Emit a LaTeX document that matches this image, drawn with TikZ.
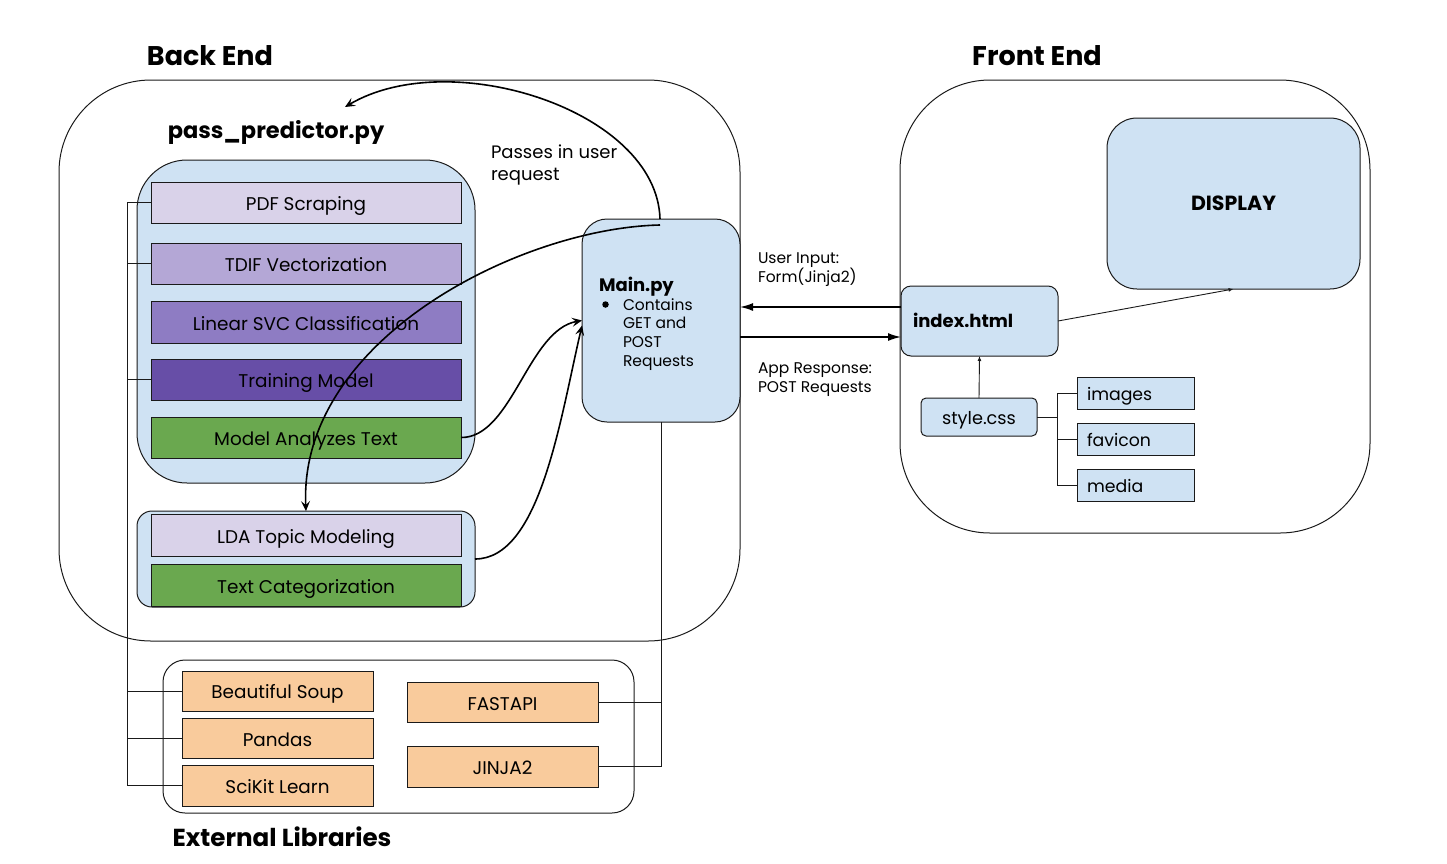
\documentclass[tikz,border=0pt]{standalone}
\usepackage{fontspec}
\setmainfont{Poppins}
\usetikzlibrary{arrows.meta}
\definecolor{lblue}{HTML}{CFE2F3}
\definecolor{pdfc}{HTML}{D9D2E9}
\definecolor{tdifc}{HTML}{B4A7D6}
\definecolor{svcc}{HTML}{8E7CC3}
\definecolor{trainc}{HTML}{674EA7}
\definecolor{greenc}{HTML}{6AA84F}
\definecolor{orangec}{HTML}{F9CB9C}
\definecolor{strokec}{HTML}{1A1A1A}
\begin{document}
\begin{tikzpicture}[x=1pt,y=-1pt,
  every node/.style={inner sep=0pt, outer sep=0pt},
  capc/.style={text height=#1, text depth=0pt},
  container/.style={draw=strokec, line width=1pt, rectangle},
  stepbox/.style={draw=strokec, line width=1pt, minimum width=310pt, font=\fontsize{18.4}{22}\selectfont, capc=16pt},
  libbox/.style={draw=strokec, line width=1pt, fill=orangec, minimum width=191pt, font=\fontsize{18.4}{22}\selectfont, capc=16pt},
  assetbox/.style={draw=strokec, line width=1pt, fill=lblue, minimum width=117pt, minimum height=32pt, text width=97pt, align=left, font=\fontsize{17.3}{20}\selectfont, capc=14pt},
  title/.style={anchor=base, font=\fontsize{27}{32}\selectfont\bfseries},
  subtitle/.style={anchor=base, font=\fontsize{22.5}{27}\selectfont\bfseries},
  lbl/.style={anchor=base west},
  conn/.style={draw=strokec, line width=1pt},
  curvearr/.style={draw=black, line width=1.6pt, -{Stealth[length=10pt,width=9pt,inset=4pt]}},
  flowarr/.style={draw=black, line width=1.6pt, -{Latex[length=13pt,width=8pt]}},
  thinarr/.style={draw=strokec, line width=0.9pt, -{Latex[length=5pt,width=4pt]}}
]
\useasboundingbox (0,0) rectangle (1447,863);

% containers
\node[container, rounded corners=92pt, minimum width=681pt, minimum height=561pt] (backend) at (399.5,360.5) {};
\node[container, rounded corners=90pt, minimum width=470pt, minimum height=453pt] (frontend) at (1135,306.5) {};
\node[container, rounded corners=22pt, minimum width=471pt, minimum height=153pt] (extbox) at (398.5,736.5) {};

% titles
\node[title] (betitle) at (210,65.5) {Back End};
\node[title] (fetitle) at (1037,65.5) {Front End};
\node[subtitle] (pptitle) at (276,138) {pass\_predictor.py};
\node[title, font=\fontsize{24.6}{29}\selectfont\bfseries] (eltitle) at (282,846) {External Libraries};

% pass_predictor container
\node[container, fill=lblue, rounded corners=50pt, minimum width=338pt, minimum height=323pt] (predbox) at (306,321.5) {};
\node[container, fill=lblue, rounded corners=15pt, minimum width=338pt, minimum height=96pt] (ldabox) at (306,559) {};

% steps
\node[stepbox, fill=pdfc, minimum height=41pt] (pdf) at (306,202.5) {PDF Scraping};
\node[stepbox, fill=tdifc, minimum height=41pt] (tdif) at (306,263.5) {TDIF Vectorization};
\node[stepbox, fill=svcc, minimum height=42pt] (svc) at (306,322) {Linear SVC Classification};
\node[stepbox, fill=trainc, minimum height=41pt] (train) at (306,379.5) {Training Model};
\node[stepbox, fill=greenc, minimum height=41pt] (model) at (306,437.5) {Model Analyzes Text};
\node[stepbox, fill=pdfc, minimum height=42pt] (lda) at (306,535) {LDA Topic Modeling};
\node[stepbox, fill=greenc, minimum height=42pt] (textcat) at (306,585) {Text Categorization};

% Main.py
\node[container, fill=lblue, rounded corners=25pt, minimum width=158pt, minimum height=203pt] (main) at (661,320.5) {};
\node[lbl, font=\fontsize{18}{22}\selectfont\bfseries] (mainname) at (599,291) {Main.py};
\node[circle, fill=black, minimum size=6.5pt] (bullet) at (605.5,304.5) {};
\node[lbl, font=\fontsize{15.5}{18}\selectfont] (item1) at (623,310) {Contains};
\node[lbl, font=\fontsize{15.5}{18}\selectfont] (item2) at (623,328.7) {GET and};
\node[lbl, font=\fontsize{15.5}{18}\selectfont] (item3) at (623,347.4) {POST};
\node[lbl, font=\fontsize{15.5}{18}\selectfont] (item4) at (623,366) {Requests};

% labels
\node[lbl, font=\fontsize{18}{22}\selectfont] (pass1) at (491,158) {Passes in user};
\node[lbl, font=\fontsize{18}{22}\selectfont] (pass2) at (491,180) {request};
\node[lbl, font=\fontsize{15.5}{19}\selectfont] (ui1) at (758,263) {User Input:};
\node[lbl, font=\fontsize{15.5}{19}\selectfont] (ui2) at (758,282) {Form(Jinja2)};
\node[lbl, font=\fontsize{15.5}{19}\selectfont] (ar1) at (758,373) {App Response:};
\node[lbl, font=\fontsize{15.5}{19}\selectfont] (ar2) at (758,392) {POST Requests};

% front end
\node[container, fill=lblue, rounded corners=30pt, minimum width=253pt, minimum height=171pt, font=\fontsize{20.5}{24}\selectfont\bfseries, capc=13pt] (display) at (1233.5,203.5) {DISPLAY};
\node[container, fill=lblue, rounded corners=10pt, minimum width=157pt, minimum height=70pt, text width=133pt, align=left, font=\fontsize{18}{22}\selectfont\bfseries, capc=13.4pt] (index) at (979.5,321) {index.html};
\node[container, fill=lblue, rounded corners=5pt, minimum width=116pt, minimum height=38pt, font=\fontsize{17.7}{21}\selectfont, capc=14pt] (style) at (979,417) {style.css};
\node[assetbox] (images) at (1135.5,393) {images};
\node[assetbox] (favicon) at (1135.5,439) {favicon};
\node[assetbox] (media) at (1135.5,485) {media};

% external libs
\node[libbox, minimum height=40pt, capc=14.6pt] (bsoup) at (277.5,691) {Beautiful Soup};
\node[libbox, minimum height=40pt] (pandas) at (277.5,738) {Pandas};
\node[libbox, minimum height=41pt] (sklearn) at (277.5,785.5) {SciKit Learn};
\node[libbox, minimum height=40pt] (fastapi) at (502.5,702) {FASTAPI};
\node[libbox, minimum height=41pt] (jinja) at (502.5,766.5) {JINJA2};

% left bus
\coordinate (bus) at (127,0);
\draw[conn] (pdf.west) -| (bus |- sklearn.west) -- (sklearn.west);
\draw[conn] (tdif.west) -- (tdif.west -| bus);
\draw[conn] (train.west) -- (train.west -| bus);
\draw[conn] (bsoup.west) -- (bsoup.west -| bus);
\draw[conn] (pandas.west) -- (pandas.west -| bus);

% right bus
\draw[conn] (main.south) |- (jinja.east);
\draw[conn] (fastapi.east) -- (fastapi.east -| main.south);

% asset tree
\coordinate (tj) at (1057,417);
\draw[conn] (style.east) -- (tj);
\draw[conn] (images.west) -| (tj) |- (media.west);
\draw[conn] (favicon.west) -- (favicon.west -| tj);

% front end arrows
\draw[thinarr] (style.north) -- (index.south);
\draw[thinarr] (index.east) -- (display.south);
\draw[flowarr] ([yshift=14pt]index.west) -- ([yshift=14pt]index.west -| main.east);
\draw[flowarr] ([yshift=-16.5pt]main.east) -- ([yshift=-16.5pt]main.east -| index.west);

% curved arrows
\coordinate (toptip) at (345,107);
\draw[curvearr] ([xshift=-1pt]main.north) .. controls (657,110) and (450,45) .. (toptip);
\draw[curvearr] ([xshift=-1pt,yshift=-6pt]main.north) .. controls (520,228) and (298,340) .. (ldabox.north);
\draw[curvearr] (model.east) .. controls (512,438) and (528,330) .. (main.west);
\draw[curvearr] (ldabox.east) .. controls (540,559) and (560,420) .. ([yshift=-5pt]main.west);
\end{tikzpicture}
\end{document}
